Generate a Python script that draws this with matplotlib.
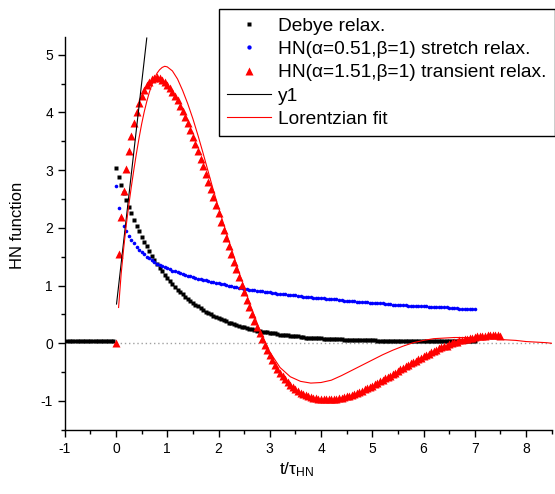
import numpy as np
import matplotlib
matplotlib.use('Agg')
import matplotlib.pyplot as plt
from matplotlib.ticker import MultipleLocator

plt.rcParams['font.family'] = ['Liberation Sans', 'DejaVu Sans']
plt.rcParams['axes.unicode_minus'] = False
plt.rcParams['mathtext.default'] = 'regular'

# time grid of the sampled curves (t/tau_HN), step 0.05
t_red = [0.00, 0.05, 0.10, 0.15, 0.20, 0.25, 0.30, 0.35, 0.40, 0.45,
         0.50, 0.55, 0.60, 0.65, 0.70, 0.75, 0.80, 0.85, 0.90, 0.95,
         1.00, 1.05, 1.10, 1.15, 1.20, 1.25, 1.30, 1.35, 1.40, 1.45,
         1.50, 1.55, 1.60, 1.65, 1.70, 1.75, 1.80, 1.85, 1.90, 1.95,
         2.00, 2.05, 2.10, 2.15, 2.20, 2.25, 2.30, 2.35, 2.40, 2.45,
         2.50, 2.55, 2.60, 2.65, 2.70, 2.75, 2.80, 2.85, 2.90, 2.95,
         3.00, 3.05, 3.10, 3.15, 3.20, 3.25, 3.30, 3.35, 3.40, 3.45,
         3.50, 3.55, 3.60, 3.65, 3.70, 3.75, 3.80, 3.85, 3.90, 3.95,
         4.00, 4.05, 4.10, 4.15, 4.20, 4.25, 4.30, 4.35, 4.40, 4.45,
         4.50, 4.55, 4.60, 4.65, 4.70, 4.75, 4.80, 4.85, 4.90, 4.95,
         5.00, 5.05, 5.10, 5.15, 5.20, 5.25, 5.30, 5.35, 5.40, 5.45,
         5.50, 5.55, 5.60, 5.65, 5.70, 5.75, 5.80, 5.85, 5.90, 5.95,
         6.00, 6.05, 6.10, 6.15, 6.20, 6.25, 6.30, 6.35, 6.40, 6.45,
         6.50, 6.55, 6.60, 6.65, 6.70, 6.75, 6.80, 6.85, 6.90, 6.95,
         7.00, 7.05, 7.10, 7.15, 7.20, 7.25, 7.30, 7.35, 7.40, 7.45,
         7.50]
t_main = t_red[:141]  # 0 .. 7
t_neg = [-0.95, -0.90, -0.85, -0.80, -0.75, -0.70, -0.65, -0.60, -0.55, -0.50,
         -0.45, -0.40, -0.35, -0.30, -0.25, -0.20, -0.15, -0.10, -0.05]

debye_neg = [0.04] * 19
debye = [3.03, 2.88, 2.74, 2.61, 2.49, 2.37, 2.25, 2.14, 2.04, 1.94,
         1.85, 1.76, 1.68, 1.60, 1.52, 1.45, 1.38, 1.31, 1.25, 1.19,
         1.13, 1.08, 1.03, 0.98, 0.93, 0.89, 0.85, 0.81, 0.77, 0.73,
         0.70, 0.67, 0.64, 0.61, 0.58, 0.55, 0.53, 0.50, 0.48, 0.46,
         0.44, 0.42, 0.40, 0.38, 0.36, 0.35, 0.33, 0.32, 0.30, 0.29,
         0.28, 0.26, 0.25, 0.24, 0.23, 0.22, 0.21, 0.20, 0.20, 0.19,
         0.18, 0.17, 0.17, 0.16, 0.15, 0.15, 0.14, 0.14, 0.13, 0.13,
         0.12, 0.12, 0.11, 0.11, 0.10, 0.10, 0.10, 0.09, 0.09, 0.09,
         0.085, 0.082, 0.080, 0.077, 0.075, 0.073, 0.071, 0.069, 0.067, 0.065,
         0.063, 0.062, 0.060, 0.059, 0.057, 0.056, 0.055, 0.053, 0.052, 0.051,
         0.050, 0.049, 0.048, 0.047, 0.047, 0.046, 0.045, 0.044, 0.044, 0.043,
         0.042, 0.042, 0.041, 0.041, 0.040, 0.040, 0.039, 0.039, 0.038, 0.038,
         0.037, 0.037, 0.037, 0.036, 0.036, 0.036, 0.035, 0.035, 0.035, 0.035,
         0.034, 0.034, 0.034, 0.034, 0.034, 0.033, 0.033, 0.033, 0.033, 0.033,
         0.033]

hn_stretch = [2.72, 2.35, 2.17, 2.04, 1.94, 1.86, 1.79, 1.73, 1.67, 1.62,
              1.58, 1.54, 1.50, 1.47, 1.44, 1.41, 1.38, 1.36, 1.34, 1.32,
              1.30, 1.28, 1.26, 1.25, 1.23, 1.21, 1.20, 1.18, 1.17, 1.16,
              1.15, 1.13, 1.12, 1.11, 1.10, 1.09, 1.08, 1.07, 1.06, 1.05,
              1.04, 1.03, 1.02, 1.01, 1.00, 0.99, 0.98, 0.97, 0.96, 0.95,
              0.94, 0.94, 0.93, 0.92, 0.92, 0.91, 0.90, 0.90, 0.89, 0.88,
              0.88, 0.87, 0.87, 0.86, 0.86, 0.85, 0.85, 0.84, 0.84, 0.83,
              0.83, 0.82, 0.82, 0.81, 0.81, 0.80, 0.80, 0.79, 0.79, 0.78,
              0.78, 0.78, 0.77, 0.77, 0.76, 0.76, 0.76, 0.75, 0.75, 0.74,
              0.74, 0.74, 0.73, 0.73, 0.72, 0.72, 0.72, 0.71, 0.71, 0.70,
              0.70, 0.70, 0.69, 0.69, 0.69, 0.68, 0.68, 0.68, 0.67, 0.67,
              0.67, 0.66, 0.66, 0.66, 0.65, 0.65, 0.65, 0.65, 0.64, 0.64,
              0.64, 0.64, 0.63, 0.63, 0.63, 0.63, 0.62, 0.62, 0.62, 0.62,
              0.61, 0.61, 0.61, 0.61, 0.60, 0.60, 0.60, 0.60, 0.59, 0.59,
              0.59]

hn_transient = [0.00, 1.54, 2.18, 2.64, 3.02, 3.33, 3.60, 3.82, 4.01, 4.16,
                4.28, 4.39, 4.47, 4.53, 4.58, 4.60, 4.61, 4.60, 4.57, 4.53,
                4.48, 4.43, 4.36, 4.29, 4.21, 4.12, 4.02, 3.92, 3.81, 3.70,
                3.58, 3.46, 3.33, 3.20, 3.07, 2.94, 2.80, 2.67, 2.53, 2.39,
                2.25, 2.11, 1.97, 1.83, 1.69, 1.55, 1.41, 1.28, 1.14, 1.01,
                0.88, 0.75, 0.63, 0.51, 0.39, 0.28, 0.17, 0.07, -0.03, -0.12,
                -0.21, -0.29, -0.37, -0.44, -0.51, -0.57, -0.62, -0.67, -0.72, -0.76,
                -0.80, -0.83, -0.86, -0.88, -0.90, -0.92, -0.93, -0.94, -0.95, -0.96,
                -0.96, -0.97, -0.97, -0.97, -0.97, -0.96, -0.96, -0.95, -0.94, -0.93,
                -0.92, -0.91, -0.89, -0.88, -0.86, -0.84, -0.82, -0.80, -0.78, -0.76,
                -0.74, -0.71, -0.69, -0.66, -0.64, -0.61, -0.59, -0.56, -0.53, -0.51,
                -0.48, -0.45, -0.43, -0.40, -0.37, -0.35, -0.32, -0.30, -0.27, -0.25,
                -0.22, -0.20, -0.18, -0.15, -0.13, -0.11, -0.09, -0.07, -0.05, -0.04,
                -0.02, 0.00, 0.02, 0.03, 0.05, 0.06, 0.07, 0.08, 0.09, 0.10,
                0.11, 0.12, 0.12, 0.13, 0.13, 0.14, 0.14, 0.14, 0.14, 0.14,
                0.13]

# linear initial slope y1
y1_t = [0.01, 0.60]
y1_y = [0.68, 5.29]

# Lorentzian fit curve
lor_t = [0.05, 0.10, 0.15, 0.20, 0.25, 0.30, 0.35, 0.40, 0.45, 0.50,
         0.55, 0.60, 0.65, 0.70, 0.75, 0.80, 0.85, 0.90, 0.95, 1.00,
         1.10, 1.20, 1.30, 1.40, 1.50, 1.60, 1.70, 1.80, 1.90, 2.00,
         2.20, 2.40, 2.60, 2.80, 3.00, 3.20, 3.40, 3.60, 3.80, 4.00,
         4.20, 4.40, 4.60, 4.80, 5.00, 5.20, 5.40, 5.60, 5.80, 6.00,
         6.20, 6.40, 6.60, 6.80, 7.00, 7.20, 7.40, 7.60, 7.80, 8.00,
         8.20, 8.40, 8.50]
lor_y = [0.62, 1.20, 1.65, 2.05, 2.40, 2.72, 3.02, 3.30, 3.56, 3.80,
         4.01, 4.19, 4.35, 4.48, 4.59, 4.68, 4.74, 4.78, 4.80, 4.79,
         4.72, 4.58, 4.38, 4.15, 3.89, 3.60, 3.29, 2.97, 2.65, 2.35,
         1.78, 1.23, 0.71, 0.24, -0.15, -0.42, -0.58, -0.66, -0.69, -0.68,
         -0.64, -0.56, -0.47, -0.38, -0.29, -0.20, -0.12, -0.05, 0.01, 0.05,
         0.08, 0.09, 0.10, 0.10, 0.10, 0.09, 0.08, 0.06, 0.05, 0.03,
         0.02, 0.01, 0.00]

fig = plt.figure(figsize=(5.55, 4.94), dpi=100)
ax = fig.add_axes([0.1167, 0.1299, 0.8773, 0.7943])

# zero reference line
ax.hlines(0, 0, 8.5, colors='#a0a0a0', linewidth=1.0, linestyles=(0, (1, 2)))

ax.plot(t_neg + t_main, debye_neg + debye, 's', color='black', ms=2.2,
        mec='none', label='Debye relax.')
ax.plot(t_main, hn_stretch, 'o', color='blue', ms=2.6, mec='none',
        label='HN(α=0.51,β=1) stretch relax.')
ax.plot(t_red, hn_transient, '^', color='red', ms=5.2, mec='none',
        label='HN(α=1.51,β=1) transient relax.')
ax.plot(y1_t, y1_y, '-', color='black', lw=0.8, label='y1')
ax.plot(lor_t, lor_y, '-', color='red', lw=0.8, label='Lorentzian fit')

ax.set_xlim(-1, 8.5)
ax.set_ylim(-1.5, 5.3)
ax.xaxis.set_major_locator(MultipleLocator(1))
ax.xaxis.set_minor_locator(MultipleLocator(0.5))
ax.yaxis.set_major_locator(MultipleLocator(1))
ax.yaxis.set_minor_locator(MultipleLocator(0.5))

ax.spines['top'].set_visible(False)
ax.spines['right'].set_visible(False)
ax.spines['left'].set_linewidth(1.0)
ax.spines['bottom'].set_linewidth(1.0)
ax.tick_params(which='major', direction='out', length=5, width=1.0, labelsize=10)
ax.tick_params(which='minor', direction='out', length=3, width=1.0)

ax.set_xlabel(r'$t/\tau_{HN}$', fontsize=12.5)
ax.xaxis.set_label_coords(0.477, -0.077)
ax.set_ylabel('HN function', fontsize=12)
ax.yaxis.set_label_coords(-0.082, 0.52)

leg = ax.legend(loc='upper right', bbox_to_anchor=(555 / 555, 1 - 9 / 494),
                bbox_transform=fig.transFigure, fontsize=13.8, frameon=True,
                fancybox=False, edgecolor='black', framealpha=1,
                borderaxespad=0, handlelength=2.3, handletextpad=0.35,
                labelspacing=0.3, borderpad=0.45, markerscale=1.2)
leg.get_frame().set_linewidth(1.0)

fig.savefig('out.png', dpi=100)
